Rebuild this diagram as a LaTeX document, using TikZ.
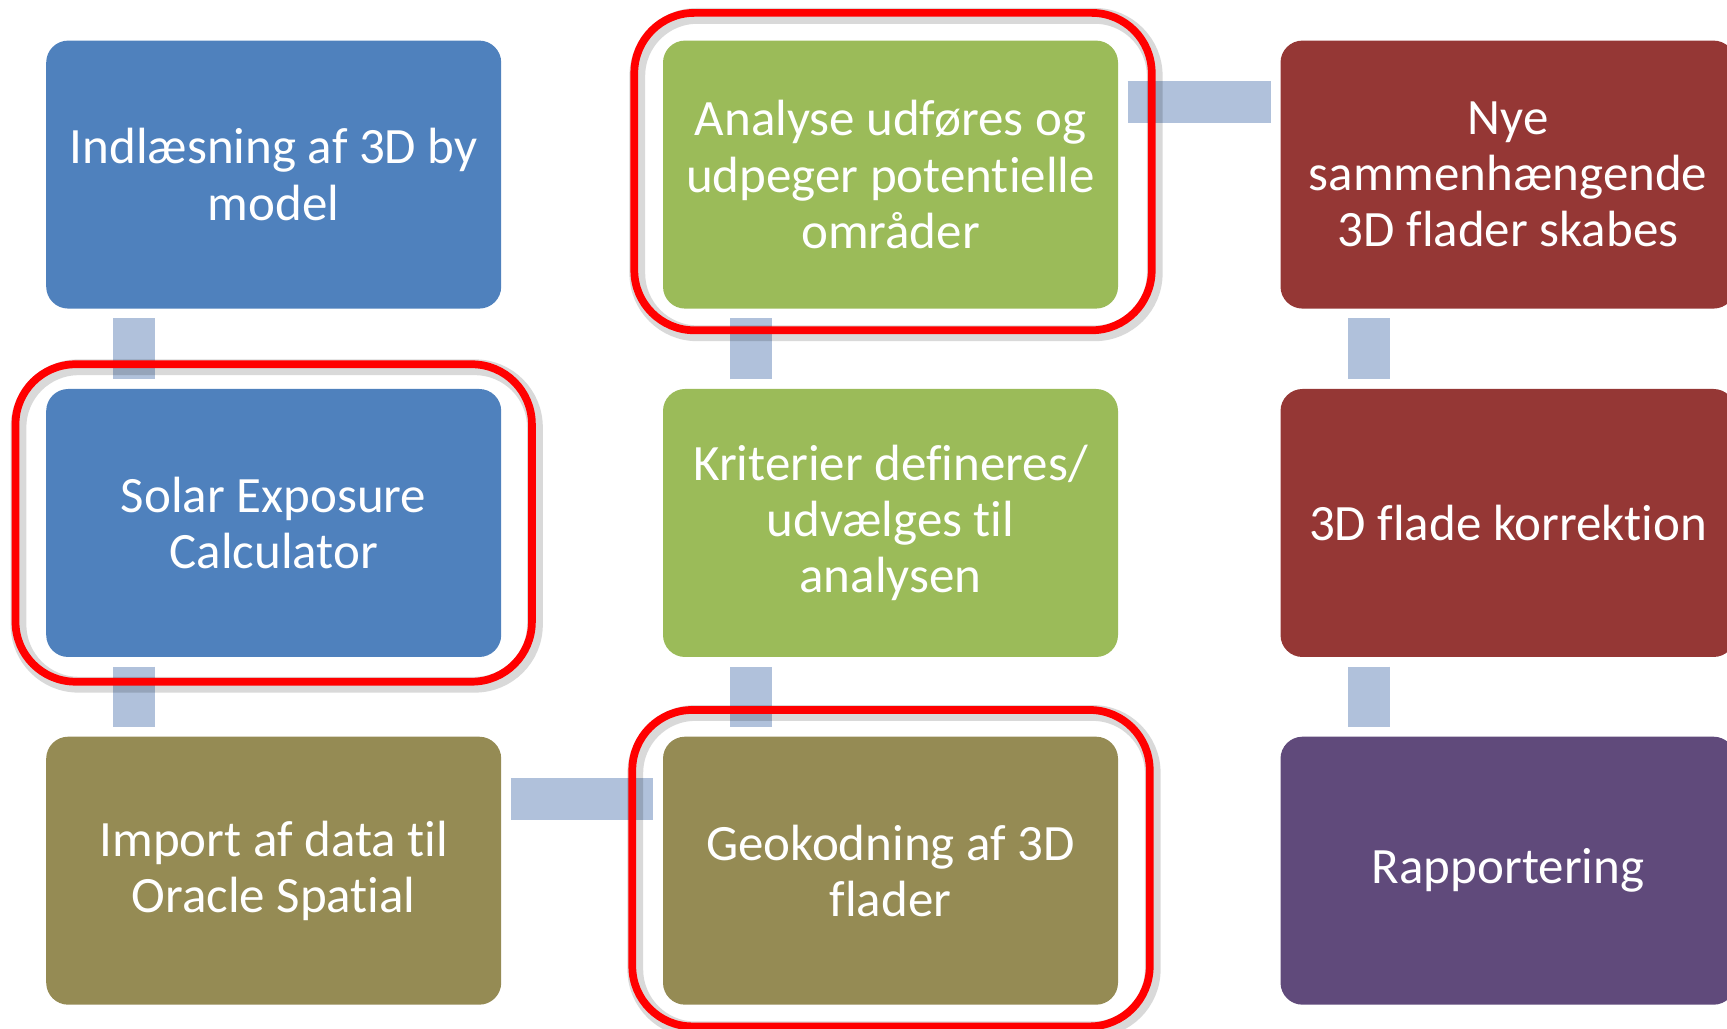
\documentclass[tikz,border=0pt]{standalone}
\usepackage{fontspec}
\setmainfont{Carlito}[Ligatures=NoCommon]
\definecolor{stepblue}{HTML}{4F81BD}
\definecolor{stepgreen}{HTML}{9BBB59}
\definecolor{stepolive}{HTML}{958B54}
\definecolor{stepred}{HTML}{953735}
\definecolor{steppurple}{HTML}{604A7B}
\definecolor{linkblue}{HTML}{B0C1DB}

\begin{document}
\begin{tikzpicture}
  [every node/.style={rectangle,rounded corners=0.22cm,minimum width=4.55cm,
    minimum height=2.68cm,inner sep=0pt,text=white,align=center,
    font=\fontsize{14.5}{16}\selectfont}]

  \tikzstyle{link} = [line width=0.42cm, draw=linkblue, shorten >=0.09cm, shorten <=0.09cm]
  \tikzstyle{ring} = [red, line width=2.2pt, rounded corners=0.6cm]
  \tikzstyle{ringshadow} = [black, opacity=0.15, line width=4.5pt, rounded corners=0.6cm]

  \useasboundingbox (0,0) rectangle (17.27,10.28);
  \clip (0,0) rectangle (17.27,10.28);

  \node[fill=stepblue]   (1) at (2.737,8.534) {Indlæsning af 3D by\\model};
  \node[fill=stepblue]   (2) at (2.737,5.05)  {Solar Exposure\\Calculator};
  \node[fill=stepolive]  (3) at (2.737,1.573) {Import af data til\\Oracle Spatial};
  \node[fill=stepolive]  (4) at (8.905,1.573) {Geokodning af 3D\\flader};
  \node[fill=stepgreen]  (5) at (8.905,5.05)  {Kriterier defineres/\\udvælges til\\analysen};
  \node[fill=stepgreen]  (6) at (8.905,8.534) {Analyse udføres og\\udpeger potentielle\\områder};
  \node[fill=stepred]    (7) at (15.08,8.534) {Nye\\sammenhængende\\3D flader skabes};
  \node[fill=stepred]    (8) at (15.08,5.05)  {3D flade korrektion};
  \node[fill=steppurple] (9) at (15.08,1.573) {Rapportering};

  \draw[link] ([xshift=0.89cm]1.south west) -- ([xshift=0.89cm]2.north west);
  \draw[link] ([xshift=0.89cm]2.south west) -- ([xshift=0.89cm]3.north west);
  \draw[link] ([yshift=-0.63cm]3.north east) -- ([yshift=-0.63cm]4.north west);
  \draw[link] ([xshift=0.89cm]4.north west) -- ([xshift=0.89cm]5.south west);
  \draw[link] ([xshift=0.89cm]5.north west) -- ([xshift=0.89cm]6.south west);
  \draw[link] ([yshift=-0.625cm]6.north east) -- ([yshift=-0.625cm]7.north west);
  \draw[link] ([xshift=0.89cm]7.south west) -- ([xshift=0.89cm]8.north west);
  \draw[link] ([xshift=0.89cm]8.south west) -- ([xshift=0.89cm]9.north west);

  \draw[ringshadow] ([shift={(-0.27,-0.27)}]2.south west) rectangle ([shift={(0.33,0.21)}]2.north east);
  \draw[ring] ([shift={(-0.3,-0.24)}]2.south west) rectangle ([shift={(0.3,0.24)}]2.north east);
  \draw[ringshadow] ([shift={(-0.25,-0.24)}]6.south west) rectangle ([shift={(0.36,0.24)}]6.north east);
  \draw[ring] ([shift={(-0.28,-0.21)}]6.south west) rectangle ([shift={(0.33,0.27)}]6.north east);
  \draw[ringshadow] ([shift={(-0.27,-0.24)}]4.south west) rectangle ([shift={(0.34,0.23)}]4.north east);
  \draw[ring] ([shift={(-0.3,-0.21)}]4.south west) rectangle ([shift={(0.31,0.26)}]4.north east);
\end{tikzpicture}
\end{document}
